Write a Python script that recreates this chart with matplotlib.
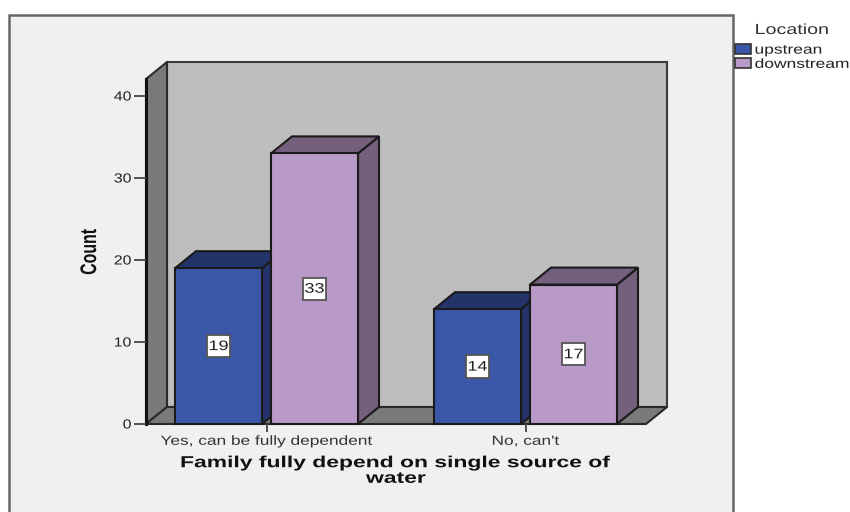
import matplotlib
matplotlib.use("Agg")
import matplotlib.pyplot as plt
from matplotlib.patches import Polygon, Rectangle, Patch
from matplotlib.patheffects import AbstractPathEffect
from matplotlib.transforms import Affine2D

categories = ["Yes, can be fully dependent", "No, can't"]
upstream = [19, 14]
downstream = [33, 17]
series_names = ["upstrean", "downstream"]
y_ticks = [0, 10, 20, 30, 40]

W, H = 850, 512
BLUE, BLUE_DARK = "#3B57A8", "#24346B"
PINK, PINK_DARK = "#B899C8", "#745F7C"
EDGE = "#1a1a1a"
FONT = "Liberation Sans"


class Stretch(AbstractPathEffect):
    # scales glyphs on screen axes, the chart font is wider than any installed one
    def __init__(self, sx=1.0, sy=1.0, anchor="center"):
        super().__init__()
        self.sx, self.sy, self.anchor = sx, sy, anchor

    def draw_path(self, renderer, gc, tpath, affine, rgbFace=None):
        box = affine.transform_path(tpath).get_extents()
        ax_ = {"left": box.x0, "right": box.x1, "center": (box.x0 + box.x1) / 2}[self.anchor]
        ay = (box.y0 + box.y1) / 2
        scaled = affine + Affine2D().translate(-ax_, -ay).scale(self.sx, self.sy).translate(ax_, ay)
        renderer.draw_path(gc, tpath, scaled, rgbFace)


fig = plt.figure(figsize=(W / 100, H / 100), dpi=100, facecolor="white")

# grey chart panel, open at the bottom edge
fig.add_artist(Rectangle((9 / W, -0.02), 724 / W, 1.02 - 15 / H, transform=fig.transFigure,
                         facecolor="#F0F0F0", edgecolor="#666666", linewidth=1.8, zorder=-1))

# front plane of the 3D box
ax = fig.add_axes([146 / W, 1 - 424 / H, 500 / W, 345 / H])
ax.patch.set_visible(False)
for s in ax.spines.values():
    s.set_visible(False)

px_x = 259.0   # pixels per category
px_y = 8.2     # pixels per count
ax.set_xlim(-120.5 / px_x, 1 + 120.5 / px_x)
ax.set_ylim(0, 345 / px_y)

dx = 21 / px_x
dy = 17 / px_y
x0, x1 = ax.get_xlim()
y0, y1 = ax.get_ylim()


def poly(points, color, z, lw=1.5, edge=EDGE):
    ax.add_patch(Polygon(points, closed=True, facecolor=color, edgecolor=edge,
                         linewidth=lw, joinstyle="miter", zorder=z, clip_on=False))


# walls and floor
poly([(x0 + dx, y0 + dy), (x1 + dx, y0 + dy), (x1 + dx, y1 + dy), (x0 + dx, y1 + dy)], "#BEBEBE", 1, edge="#3a3a3a")
poly([(x0, y0), (x0 + dx, y0 + dy), (x0 + dx, y1 + dy), (x0, y1)], "#7A7A7A", 1.1, edge="#2a2a2a")
poly([(x0, y0), (x1, y0), (x1 + dx, y0 + dy), (x0 + dx, y0 + dy)], "#7A7A7A", 1.1, edge="#2a2a2a")
ax.plot([x0, x0], [y0, y1], color="#111111", linewidth=2.2, zorder=1.2, clip_on=False)

bar_w = 87 / px_x
offset = 48 / px_x


def bar3d(xc, value, face, dark, z):
    left, right = xc - bar_w / 2, xc + bar_w / 2
    poly([(right, 0), (right + dx, dy), (right + dx, value + dy), (right, value)], dark, z)
    poly([(left, value), (right, value), (right + dx, value + dy), (left + dx, value + dy)], dark, z)
    poly([(left, 0), (right, 0), (right, value), (left, value)], face, z + 0.1)
    ax.text(xc, value / 2, str(value), ha="center", va="center", fontsize=10, family=FONT,
            color="#222222", zorder=z + 0.2, path_effects=[Stretch(1.3)],
            bbox=dict(boxstyle="square,pad=0.3", facecolor="white", edgecolor="#555555", linewidth=1.3))


for i in range(len(categories)):
    bar3d(i - offset, upstream[i], BLUE, BLUE_DARK, 2 + i * 2)
    bar3d(i + offset, downstream[i], PINK, PINK_DARK, 3 + i * 2)

ax.set_xlim(x0, x1)
ax.set_ylim(y0, y1)
ax.set_xticks(range(len(categories)))
ax.set_xticklabels(categories, fontsize=9.5, family=FONT, color="#333333", path_effects=[Stretch(1.31)])
ax.set_yticks(y_ticks)
ax.set_yticklabels([str(v) for v in y_ticks], fontsize=9.5, family=FONT, color="#222222",
                   path_effects=[Stretch(1.2, anchor="right")])
ax.tick_params(axis="x", length=6, width=1.3, color="#444444", pad=2.5)
ax.tick_params(axis="y", length=9, width=1.3, color="#444444", pad=1.5)

fig.text(396 / W, 1 - 470.5 / H, "Family fully depend on single source of\nwater", ha="center", va="center",
         fontsize=11.5, fontweight="bold", family=FONT, color="#111111", linespacing=1.05,
         path_effects=[Stretch(1.433)])
fig.text(90 / W, 1 - 252 / H, "Count", rotation=90, ha="center", va="center", fontsize=13,
         fontweight="bold", family=FONT, color="#111111", path_effects=[Stretch(1.25, 0.88)])

# legend sits to the right of the panel
fig.text(755 / W, 1 - 30 / H, "Location", ha="left", va="center", fontsize=10.5, family=FONT, color="#333333",
         path_effects=[Stretch(1.35, anchor="left")])
handles = [Patch(facecolor=BLUE, edgecolor="#333333", linewidth=1.2),
           Patch(facecolor=PINK, edgecolor="#333333", linewidth=1.2)]
leg = fig.legend(handles, series_names, loc="upper left", bbox_to_anchor=(735 / W, 1 - 44 / H),
                 frameon=False, borderpad=0, borderaxespad=0, handlelength=1.2, handleheight=0.8,
                 handletextpad=0.3, labelspacing=0.12, prop={"family": FONT, "size": 9.5}, labelcolor="#222222")
for t in leg.get_texts():
    t.set_path_effects([Stretch(1.32, anchor="left")])

fig.savefig("out.png", dpi=100)
